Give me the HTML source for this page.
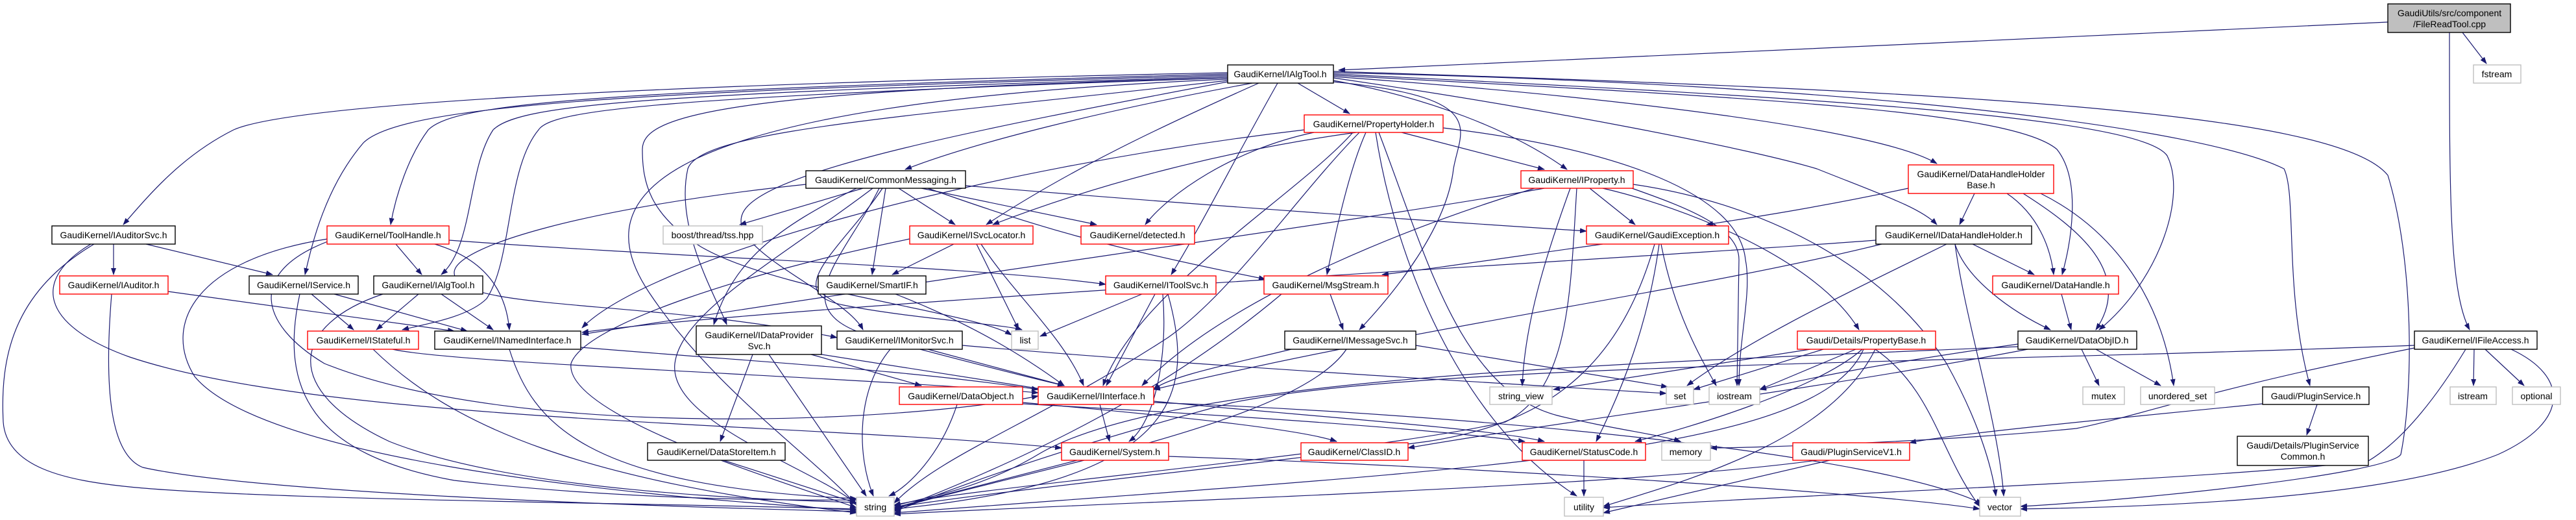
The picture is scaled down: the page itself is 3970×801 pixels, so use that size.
<!DOCTYPE html>
<html><head><meta charset="utf-8"><style>
html,body{margin:0;padding:0;background:#fff;}
svg{display:block;}
.e{fill:none;stroke:#191970;stroke-width:1.2;marker-end:url(#a);}
.n rect{fill:#fff;stroke-width:1.4;}
.k rect{stroke:#000;}
.r rect{stroke:#ff0000;}
.g rect{stroke:#bfbfbf;}
text{font-family:"Liberation Sans","DejaVu Sans",sans-serif;font-size:14px;text-anchor:middle;fill:#000;}
</style></head><body>
<svg width="3970" height="801" viewBox="0 0 3970 801" xmlns="http://www.w3.org/2000/svg">
<defs><marker id="a" markerUnits="userSpaceOnUse" markerWidth="11" markerHeight="8" refX="10" refY="4" orient="auto"><path d="M0,0 L11,4 L0,8 z" fill="#191970"/></marker></defs>
<g>
<path class="e" d="M3680,34 C3200,55 2500,90 2063,108"/>
<path class="e" d="M3795,50 L3832,98"/>
<path class="e" d="M3775,50 C3775,300 3775,450 3806,508"/>
<path class="e" d="M1892,112 C1000,130 450,160 360,200 C280,240 230,300 190,346"/>
<path class="e" d="M1892,114 C900,140 700,160 660,200 C630,240 610,300 602,346"/>
<path class="e" d="M1892,116 C1000,140 620,160 560,220 C500,290 480,380 470,423"/>
<path class="e" d="M1892,118 C1000,145 800,160 760,200 C720,260 730,380 680,423"/>
<path class="e" d="M1892,120 C1000,150 850,170 830,200 C780,260 790,400 750,460 C720,490 650,500 620,508"/>
<path class="e" d="M1930,128 C1700,170 1500,220 1395,261"/>
<path class="e" d="M1940,128 C1800,190 1650,260 1520,346"/>
<path class="e" d="M2000,128 L2080,175"/>
<path class="e" d="M2055,124 C2200,150 2330,200 2415,261"/>
<path class="e" d="M1969,128 C1900,250 1850,350 1805,423"/>
<path class="e" d="M2055,126 C2300,150 2250,200 2240,260 C2230,350 2150,450 2095,508"/>
<path class="e" d="M2055,118 C2500,150 2900,200 2985,252"/>
<path class="e" d="M2055,120 C2400,170 2700,230 2800,260 C2900,300 2960,320 2985,346"/>
<path class="e" d="M2055,116 C2700,150 3100,170 3170,230 C3210,280 3190,380 3178,423"/>
<path class="e" d="M2055,114 C2800,150 3300,180 3340,240 C3370,300 3330,430 3235,508"/>
<path class="e" d="M2055,112 C2900,130 3400,200 3520,260 C3540,300 3520,450 3560,594"/>
<path class="e" d="M2055,110 C3000,140 3600,170 3680,270 C3720,400 3720,600 3700,700 C3680,730 3300,770 3114,780"/>
<path class="e" d="M1892,124 C1400,180 1080,200 1060,260 C1040,350 1100,450 1120,500"/>
<path class="e" d="M1892,126 C1500,200 1200,260 1150,320 C1100,380 1300,450 1330,508"/>
<path class="e" d="M1892,120 C1100,140 990,180 990,230 C990,280 1000,330 1080,380 C1200,450 1500,480 1559,516"/>
<path class="e" d="M1892,122 C1000,160 900,300 1000,450 C1100,600 1250,700 1320,778"/>
<path class="e" d="M2891,370 C2500,400 1200,470 897,512"/>
<path class="e" d="M2160,204 L2380,261"/>
<path class="e" d="M2090,204 C1900,230 1700,280 1530,346"/>
<path class="e" d="M2025,204 C1900,230 1800,300 1765,346"/>
<path class="e" d="M2105,204 C2080,260 2060,350 2045,423"/>
<path class="e" d="M2010,200 C1500,260 1000,400 897,505"/>
<path class="e" d="M2085,204 C2000,300 1750,450 1700,594"/>
<path class="e" d="M2224,197 C2500,230 2680,300 2690,400 C2700,450 2680,520 2680,594"/>
<path class="e" d="M2120,204 C2150,400 2250,650 2430,764"/>
<path class="e" d="M2125,204 C2200,400 2250,600 2400,640 C2480,660 2560,670 2590,680"/>
<path class="e" d="M2095,204 C2000,300 1900,450 1800,520 C1600,650 1450,700 1378,775"/>
<path class="e" d="M1330,290 L1140,346"/>
<path class="e" d="M1385,290 L1472,346"/>
<path class="e" d="M1365,290 L1344,423"/>
<path class="e" d="M1420,290 L1690,346"/>
<path class="e" d="M1488,286 C1900,320 2200,340 2445,356"/>
<path class="e" d="M1430,290 C1600,350 1700,380 1950,430"/>
<path class="e" d="M1355,290 C1300,400 1200,480 1350,520 C1500,560 1580,580 1640,594"/>
<path class="e" d="M1345,290 C1200,400 1050,480 1040,560 C1030,650 1250,720 1320,776"/>
<path class="e" d="M1320,290 C1200,350 1130,400 1100,500"/>
<path class="e" d="M1360,290 C1300,380 1200,450 1300,470 C1400,490 1550,500 1575,508"/>
<path class="e" d="M1242,284 C900,320 700,380 700,420 C700,480 1000,460 1290,520"/>
<path class="e" d="M1470,376 L1375,423"/>
<path class="e" d="M1505,376 L1570,508"/>
<path class="e" d="M1512,376 C1560,450 1640,520 1670,594"/>
<path class="e" d="M1402,368 C1150,420 900,500 880,560 C870,640 1200,740 1320,782"/>
<path class="e" d="M2470,376 C2300,400 2200,415 2130,423"/>
<path class="e" d="M2557,376 C2540,500 2500,600 2460,680"/>
<path class="e" d="M2560,376 C2580,480 2620,550 2645,594"/>
<path class="e" d="M2550,376 C2500,550 2400,650 2200,680 C1900,720 1500,760 1378,782"/>
<path class="e" d="M2450,290 L2520,346"/>
<path class="e" d="M2470,290 C2600,320 2800,400 2865,508"/>
<path class="e" d="M2420,290 C2380,400 2350,500 2346,594"/>
<path class="e" d="M2515,290 C2600,320 2680,350 2680,400 L2677,594"/>
<path class="e" d="M2380,290 C2100,340 1500,420 897,515"/>
<path class="e" d="M2365,290 C2200,340 1900,450 1760,594"/>
<path class="e" d="M2430,290 C2420,450 2420,600 2320,650 C2100,700 1500,750 1378,778"/>
<path class="e" d="M2517,284 C2700,310 2900,400 3000,560 C3050,650 3070,720 3076,764"/>
<path class="e" d="M3043,298 L3020,346"/>
<path class="e" d="M3093,298 C3140,330 3160,380 3165,423"/>
<path class="e" d="M3118,298 C3200,350 3290,420 3230,508"/>
<path class="e" d="M2941,290 C2800,320 2700,335 2630,346"/>
<path class="e" d="M3145,298 C3250,350 3330,450 3350,594"/>
<path class="e" d="M3040,376 L3135,423"/>
<path class="e" d="M3013,376 C3030,430 3100,480 3160,508"/>
<path class="e" d="M3000,376 C2850,450 2700,520 2600,594"/>
<path class="e" d="M3013,376 C3030,500 3080,650 3088,764"/>
<path class="e" d="M2900,376 C2600,450 2200,500 1778,600"/>
<path class="e" d="M175,376 L175,423"/>
<path class="e" d="M225,376 L420,423"/>
<path class="e" d="M145,376 C20,450 0,550 5,650 C10,720 100,740 200,750 C400,770 1000,775 1320,784"/>
<path class="e" d="M140,376 C50,430 60,500 200,550 C500,650 1200,650 1636,690"/>
<path class="e" d="M610,376 L650,423"/>
<path class="e" d="M670,376 C750,400 780,450 785,508"/>
<path class="e" d="M692,370 C1100,400 1500,410 1704,438"/>
<path class="e" d="M505,368 C300,400 250,500 300,580 C400,700 900,760 1320,786"/>
<path class="e" d="M505,372 C380,420 400,500 500,560 C800,680 1400,650 1600,610"/>
<path class="e" d="M259,449 L700,510"/>
<path class="e" d="M172,453 C160,600 170,700 220,720 C400,760 1000,780 1320,788"/>
<path class="e" d="M480,453 L545,508"/>
<path class="e" d="M515,453 L720,510"/>
<path class="e" d="M462,453 C430,600 480,700 700,740 C1000,775 1300,770 1320,770"/>
<path class="e" d="M645,453 L580,508"/>
<path class="e" d="M680,453 L760,508"/>
<path class="e" d="M590,453 C450,500 430,600 600,680 C800,760 1200,770 1320,774"/>
<path class="e" d="M1380,453 C1500,500 1580,550 1640,594"/>
<path class="e" d="M1780,453 L1705,594"/>
<path class="e" d="M1760,453 L1603,518"/>
<path class="e" d="M1792,453 C1800,550 1780,650 1740,680"/>
<path class="e" d="M1800,453 C1840,600 1830,740 1378,784"/>
<path class="e" d="M2050,453 L2070,508"/>
<path class="e" d="M1975,453 C1800,600 1600,700 1378,786"/>
<path class="e" d="M3177,453 L3192,508"/>
<path class="e" d="M605,538 C700,560 1300,580 1600,605"/>
<path class="e" d="M575,538 C700,660 900,740 1320,790"/>
<path class="e" d="M895,535 C1200,560 1400,570 1600,600"/>
<path class="e" d="M785,538 C820,650 900,750 1320,768"/>
<path class="e" d="M1160,546 L1110,680"/>
<path class="e" d="M1250,546 L1420,594"/>
<path class="e" d="M1266,546 L1610,600"/>
<path class="e" d="M1185,546 L1335,764"/>
<path class="e" d="M1430,538 L1640,594"/>
<path class="e" d="M1372,538 C1320,600 1320,700 1346,764"/>
<path class="e" d="M1483,532 C1800,560 2300,590 2568,606"/>
<path class="e" d="M1990,538 C1900,560 1800,580 1778,600"/>
<path class="e" d="M2182,532 L2570,596"/>
<path class="e" d="M2075,538 C2000,650 1600,720 1378,784"/>
<path class="e" d="M2790,538 L2394,600"/>
<path class="e" d="M2810,538 L2610,600"/>
<path class="e" d="M2860,538 L2712,600"/>
<path class="e" d="M2870,538 C2800,600 2600,660 2520,680"/>
<path class="e" d="M2872,538 C2800,700 2300,720 1378,790"/>
<path class="e" d="M2890,538 C2820,680 2600,740 2471,780"/>
<path class="e" d="M2890,538 C2980,600 2990,700 3051,780"/>
<path class="e" d="M3208,538 L3235,594"/>
<path class="e" d="M3230,538 L3330,594"/>
<path class="e" d="M3110,534 C2500,560 1800,580 1600,700 C1500,760 1400,770 1378,780"/>
<path class="e" d="M3110,530 C2900,560 2800,580 2712,600"/>
<path class="e" d="M3125,538 C2800,600 2400,650 2170,690"/>
<path class="e" d="M1576,620 C1800,640 2000,660 2060,680"/>
<path class="e" d="M1576,622 C1900,640 2200,660 2350,680"/>
<path class="e" d="M1475,623 C1450,700 1400,750 1370,764"/>
<path class="e" d="M1695,623 L1710,680"/>
<path class="e" d="M1778,618 C2000,640 2300,660 2380,680"/>
<path class="e" d="M1778,620 C2300,640 2900,700 3055,776"/>
<path class="e" d="M1115,709 L1320,775"/>
<path class="e" d="M1660,709 L1378,782"/>
<path class="e" d="M1801,703 C2300,720 2900,760 3051,784"/>
<path class="e" d="M2441,709 L2441,764"/>
<path class="e" d="M3487,622 C3200,650 3000,670 2943,682"/>
<path class="e" d="M3571,623 L3555,670"/>
<path class="e" d="M2800,709 C2500,750 1800,770 1378,792"/>
<path class="e" d="M2820,709 L2471,790"/>
<path class="e" d="M3813,538 L3812,594"/>
<path class="e" d="M3830,538 L3890,594"/>
<path class="e" d="M3870,538 C3960,580 3960,650 3850,700 C3700,760 3400,780 3114,784"/>
<path class="e" d="M3721,532 C3000,560 2200,560 1900,620 C1600,700 1450,760 1378,788"/>
<path class="e" d="M3721,536 C3400,600 3300,640 3200,660 C3000,680 2700,690 2636,690"/>
<path class="e" d="M3800,538 C3750,620 3700,680 3650,710 C3400,740 2800,760 2471,782"/>
</g>
<g class="n">
<g><rect x="3680" y="6" width="189" height="44" style="fill:#bfbfbf;stroke:#000"/><text x="3775" y="25">GaudiUtils/src/component</text><text x="3775" y="42">/FileReadTool.cpp</text></g>
<g class="g"><rect x="3812" y="100" width="73" height="28"/><text x="3848" y="119">fstream</text></g>
<g class="k"><rect x="1892" y="100" width="163" height="28"/><text x="1973" y="119">GaudiKernel/IAlgTool.h</text></g>
<g class="r"><rect x="2010" y="177" width="214" height="27"/><text x="2117" y="196">GaudiKernel/PropertyHolder.h</text></g>
<g class="k"><rect x="1242" y="263" width="246" height="27"/><text x="1365" y="282">GaudiKernel/CommonMessaging.h</text></g>
<g class="r"><rect x="2344" y="263" width="173" height="27"/><text x="2430" y="282">GaudiKernel/IProperty.h</text></g>
<g class="r"><rect x="2941" y="254" width="224" height="44"/><text x="3053" y="273">GaudiKernel/DataHandleHolder</text><text x="3053" y="290">Base.h</text></g>
<g class="k"><rect x="80" y="348" width="190" height="28"/><text x="175" y="367">GaudiKernel/IAuditorSvc.h</text></g>
<g class="r"><rect x="504" y="348" width="188" height="28"/><text x="598" y="367">GaudiKernel/ToolHandle.h</text></g>
<g class="g"><rect x="1022" y="348" width="153" height="28"/><text x="1098" y="367">boost/thread/tss.hpp</text></g>
<g class="r"><rect x="1402" y="348" width="190" height="28"/><text x="1497" y="367">GaudiKernel/ISvcLocator.h</text></g>
<g class="r"><rect x="1666" y="348" width="175" height="28"/><text x="1753" y="367">GaudiKernel/detected.h</text></g>
<g class="r"><rect x="2445" y="348" width="219" height="28"/><text x="2554" y="367">GaudiKernel/GaudiException.h</text></g>
<g class="k"><rect x="2891" y="348" width="240" height="28"/><text x="3011" y="367">GaudiKernel/IDataHandleHolder.h</text></g>
<g class="r"><rect x="92" y="425" width="167" height="28"/><text x="175" y="444">GaudiKernel/IAuditor.h</text></g>
<g class="k"><rect x="384" y="425" width="168" height="28"/><text x="468" y="444">GaudiKernel/IService.h</text></g>
<g class="k"><rect x="576" y="425" width="168" height="28"/><text x="660" y="444">GaudiKernel/IAlgTool.h</text></g>
<g class="k"><rect x="1261" y="425" width="166" height="28"/><text x="1344" y="444">GaudiKernel/SmartIF.h</text></g>
<g class="r"><rect x="1704" y="425" width="170" height="28"/><text x="1789" y="444">GaudiKernel/IToolSvc.h</text></g>
<g class="r"><rect x="1948" y="425" width="191" height="28"/><text x="2043" y="444">GaudiKernel/MsgStream.h</text></g>
<g class="r"><rect x="3071" y="425" width="194" height="28"/><text x="3168" y="444">GaudiKernel/DataHandle.h</text></g>
<g class="r"><rect x="474" y="510" width="171" height="28"/><text x="560" y="529">GaudiKernel/IStateful.h</text></g>
<g class="k"><rect x="670" y="510" width="225" height="28"/><text x="782" y="529">GaudiKernel/INamedInterface.h</text></g>
<g class="k"><rect x="1073" y="502" width="193" height="44"/><text x="1170" y="521">GaudiKernel/IDataProvider</text><text x="1170" y="538">Svc.h</text></g>
<g class="k"><rect x="1290" y="510" width="193" height="28"/><text x="1386" y="529">GaudiKernel/IMonitorSvc.h</text></g>
<g class="g"><rect x="1559" y="510" width="41" height="28"/><text x="1580" y="529">list</text></g>
<g class="k"><rect x="1980" y="510" width="202" height="28"/><text x="2081" y="529">GaudiKernel/IMessageSvc.h</text></g>
<g class="r"><rect x="2770" y="510" width="213" height="28"/><text x="2876" y="529">Gaudi/Details/PropertyBase.h</text></g>
<g class="k"><rect x="3110" y="510" width="183" height="28"/><text x="3201" y="529">GaudiKernel/DataObjID.h</text></g>
<g class="k"><rect x="3721" y="510" width="189" height="28"/><text x="3815" y="529">GaudiKernel/IFileAccess.h</text></g>
<g class="r"><rect x="1386" y="596" width="190" height="27"/><text x="1481" y="615">GaudiKernel/DataObject.h</text></g>
<g class="r"><rect x="1600" y="596" width="178" height="27"/><text x="1689" y="615">GaudiKernel/IInterface.h</text></g>
<g class="g"><rect x="2296" y="596" width="96" height="27"/><text x="2344" y="615">string_view</text></g>
<g class="g"><rect x="2568" y="596" width="42" height="27"/><text x="2589" y="615">set</text></g>
<g class="g"><rect x="2634" y="596" width="78" height="27"/><text x="2673" y="615">iostream</text></g>
<g class="g"><rect x="3210" y="596" width="64" height="27"/><text x="3242" y="615">mutex</text></g>
<g class="g"><rect x="3299" y="596" width="114" height="27"/><text x="3356" y="615">unordered_set</text></g>
<g class="k"><rect x="3487" y="596" width="164" height="27"/><text x="3569" y="615">Gaudi/PluginService.h</text></g>
<g class="g"><rect x="3776" y="596" width="71" height="27"/><text x="3811" y="615">istream</text></g>
<g class="g"><rect x="3872" y="596" width="74" height="27"/><text x="3909" y="615">optional</text></g>
<g class="k"><rect x="998" y="682" width="212" height="27"/><text x="1104" y="701">GaudiKernel/DataStoreItem.h</text></g>
<g class="r"><rect x="1636" y="682" width="165" height="27"/><text x="1718" y="701">GaudiKernel/System.h</text></g>
<g class="r"><rect x="2005" y="682" width="165" height="27"/><text x="2087" y="701">GaudiKernel/ClassID.h</text></g>
<g class="r"><rect x="2346" y="682" width="190" height="27"/><text x="2441" y="701">GaudiKernel/StatusCode.h</text></g>
<g class="g"><rect x="2561" y="682" width="75" height="27"/><text x="2598" y="701">memory</text></g>
<g class="r"><rect x="2763" y="682" width="180" height="27"/><text x="2853" y="701">Gaudi/PluginServiceV1.h</text></g>
<g class="k"><rect x="3448" y="672" width="202" height="45"/><text x="3549" y="691">Gaudi/Details/PluginService</text><text x="3549" y="708">Common.h</text></g>
<g class="g"><rect x="1320" y="766" width="58" height="29"/><text x="1349" y="786">string</text></g>
<g class="g"><rect x="2411" y="766" width="60" height="29"/><text x="2441" y="786">utility</text></g>
<g class="g"><rect x="3051" y="766" width="63" height="29"/><text x="3082" y="786">vector</text></g>
</g>
</svg>
</body></html>
